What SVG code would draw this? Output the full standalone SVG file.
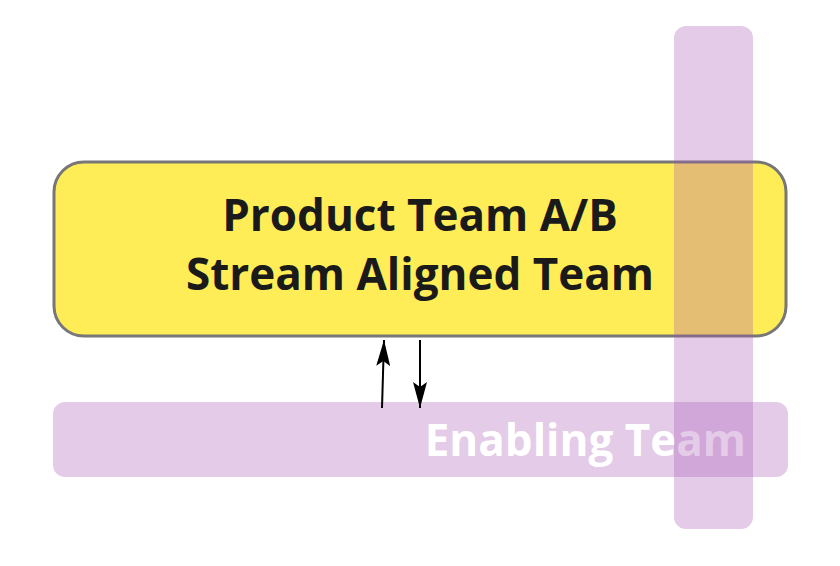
<svg xmlns="http://www.w3.org/2000/svg" width="840" height="566" viewBox="0 0 840 566">
<style>
.bar{fill:#a552b2;fill-opacity:0.3}
.t{font-family:"Open Sans","Noto Sans",sans-serif;font-weight:bold;font-size:44px}
</style>
<defs>
<marker id="ah" viewBox="0 0 26 14" refX="26" refY="7" markerWidth="26" markerHeight="14" markerUnits="userSpaceOnUse" orient="auto"><path d="M0,0 L26,7 L0,14 L5,7 Z" fill="#000"/></marker>
</defs>
<rect width="840" height="566" fill="#fff"/>
<g id="stream-team">
<rect x="54" y="162" width="732" height="174" rx="30" fill="#ffed58" stroke="#777" stroke-width="3"/>
<text class="t" x="420" y="231" text-anchor="middle" fill="#1a1a1a">Product Team A/B</text>
<text class="t" x="420" y="290" text-anchor="middle" fill="#1a1a1a">Stream Aligned Team</text>
</g>
<g id="enabling-team">
<rect class="bar" x="53" y="402" width="735" height="75" rx="12"/>
<text class="t" x="746" y="456" text-anchor="end" fill="#fff">Enabling Team</text>
</g>
<g id="vertical-team">
<rect class="bar" x="674" y="26" width="79" height="503" rx="12"/>
</g>
<g id="connectors" stroke="#000" stroke-width="2" fill="none">
<line x1="382" y1="408" x2="384" y2="340" marker-end="url(#ah)"/>
<line x1="420" y1="340" x2="420" y2="408" marker-end="url(#ah)"/>
</g>
</svg>
